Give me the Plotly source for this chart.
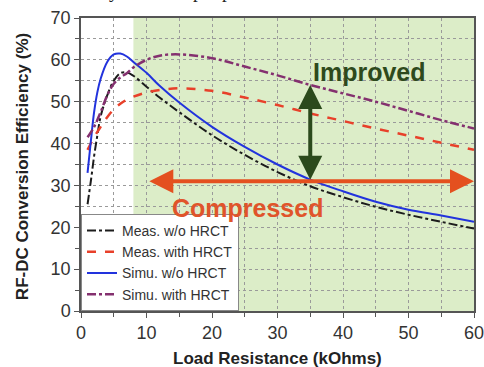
import plotly.graph_objects as go

# Load resistance (kOhms)
x_meas_wo = [1, 1.5, 2, 2.5, 3, 4, 5, 6, 7, 8, 10, 12, 15, 20, 25, 30, 35, 40, 45, 50, 55, 60]
y_meas_wo = [25.5, 31, 37, 42, 46.5, 51.5, 55, 56.8, 57, 56.2, 53.6, 51, 47.5, 42, 37.3, 33.2, 29.8, 27.2, 24.9, 23, 21.3, 19.7]

x_meas_with = [1, 2, 3, 4, 5, 6, 7, 8, 10, 12, 15, 20, 25, 30, 35, 40, 45, 50, 55, 60]
y_meas_with = [38.5, 41.5, 44, 46.3, 48.2, 49.5, 50.5, 51.2, 52.2, 52.8, 53.2, 52.6, 51, 49.2, 47.2, 45.4, 43.6, 41.9, 40.2, 38.5]

x_simu_wo = [1, 1.5, 2, 2.5, 3, 4, 5, 6, 7, 8, 10, 12, 15, 20, 25, 30, 35, 40, 45, 50, 55, 60]
y_simu_wo = [33, 40.5, 47.5, 52.3, 55.5, 59.5, 61.3, 61.5, 60.8, 59.5, 56.9, 53.8, 49.8, 44, 39.2, 35, 31.4, 28.6, 26.1, 24.2, 22.8, 21.3]

x_simu_with = [1, 2, 3, 4, 5, 6, 7, 8, 10, 12, 15, 20, 25, 30, 35, 40, 45, 50, 55, 60]
y_simu_with = [41.5, 44, 47.5, 51.5, 54.3, 55.8, 56.8, 58.2, 60, 61, 61.3, 60.4, 58.4, 56.3, 54, 52, 50, 47.8, 45.6, 43.6]

series_names = ["Meas. w/o HRCT", "Meas. with HRCT", "Simu. w/o HRCT", "Simu. with HRCT"]

x_ticks = [0, 10, 20, 30, 40, 50, 60]
y_ticks = [0, 10, 20, 30, 40, 50, 60, 70]

shade_x = [8, 60]
improved_x, improved_y = [35, 35], [31, 54]
compressed_x, compressed_y = [10.2, 60], [31, 31]

FONT = "Arial, Liberation Sans, sans-serif"

fig = go.Figure()
fig.add_trace(go.Scatter(x=x_meas_wo, y=y_meas_wo, mode="lines", name=series_names[0],
                         line=dict(color="#1c1c1c", width=2, dash="dashdot", shape="spline")))
fig.add_trace(go.Scatter(x=x_meas_with, y=y_meas_with, mode="lines", name=series_names[1],
                         line=dict(color="#e8402a", width=2.5, dash="dash", shape="spline")))
fig.add_trace(go.Scatter(x=x_simu_wo, y=y_simu_wo, mode="lines", name=series_names[2],
                         line=dict(color="#2233dd", width=2, shape="spline")))
fig.add_trace(go.Scatter(x=x_simu_with, y=y_simu_with, mode="lines", name=series_names[3],
                         line=dict(color="#84306f", width=2.5, dash="dashdot", shape="spline")))

fig.add_shape(type="rect", xref="x", yref="y", x0=shade_x[0], x1=shade_x[1], y0=0, y1=70,
              fillcolor="#dcedc8", line_width=0, layer="below")

# double arrows
fig.add_annotation(x=improved_x[0], y=improved_y[1], ax=improved_x[1], ay=improved_y[0],
                   xref="x", yref="y", axref="x", ayref="y", text="", showarrow=True,
                   arrowhead=2, arrowside="end+start", arrowsize=1.2, arrowwidth=4,
                   arrowcolor="#2b4a1c", standoff=0, startstandoff=0)
fig.add_annotation(x=compressed_x[1], y=compressed_y[0], ax=compressed_x[0], ay=compressed_y[1],
                   xref="x", yref="y", axref="x", ayref="y", text="", showarrow=True,
                   arrowhead=2, arrowside="end+start", arrowsize=1.2, arrowwidth=4,
                   arrowcolor="#e4501f", standoff=0, startstandoff=0)

fig.add_annotation(x=44.1, y=57.1, xref="x", yref="y", text="<b>Improved</b>", showarrow=False,
                   font=dict(family=FONT, size=25, color="#2e4a1c"))
fig.add_annotation(x=25.4, y=24.6, xref="x", yref="y", text="<b>Compressed</b>", showarrow=False,
                   font=dict(family=FONT, size=25, color="#e0542a"))

# axis titles
fig.add_annotation(x=0.5, y=0, xref="paper", yref="paper", yshift=-47, yanchor="middle",
                   text="<b>Load Resistance (kOhms)</b>", showarrow=False,
                   font=dict(family=FONT, size=17, color="#222"))
fig.add_annotation(x=0, y=0.491, xref="paper", yref="paper", xshift=-59, xanchor="center",
                   yanchor="middle", textangle=-90,
                   text="<b>RF-DC Conversion Efficiency (%)</b>", showarrow=False,
                   font=dict(family=FONT, size=17, color="#222"))

# clipped caption text from the page above
fig.add_annotation(x=0.5, y=1, xref="paper", yref="paper", yshift=14, yanchor="bottom",
                   text="efficiency for the input power levels at 0 and 5 dBm is shown",
                   showarrow=False, font=dict(family="Liberation Serif, serif", size=19, color="#222"))

axis_common = dict(showline=True, linecolor="#555", linewidth=1.5, mirror=True, automargin=False,
                   ticks="outside", ticklen=5, tickcolor="#555", showgrid=False, zeroline=False,
                   ticklabeloverflow="allow",
                   tickfont=dict(family=FONT, size=18, color="#333"))
fig.update_xaxes(range=[0, 60], tickvals=x_ticks,
                 minor=dict(dtick=5, tick0=0, ticks="outside", ticklen=4, tickcolor="#555",
                            showgrid=True, gridcolor="#9a9a9a", griddash="dot", gridwidth=1),
                 **axis_common)
fig.update_yaxes(range=[0, 70], tickvals=y_ticks,
                 minor=dict(dtick=5, tick0=0, ticks="outside", ticklen=4, tickcolor="#555",
                            showgrid=True, gridcolor="#9a9a9a", griddash="dot", gridwidth=1),
                 **axis_common)

fig.update_layout(width=484, height=367, margin=dict(l=81, r=10, t=18, b=56, autoexpand=False),
                  paper_bgcolor="white", plot_bgcolor="white",
                  legend=dict(x=0, y=0, xanchor="left", yanchor="bottom", bgcolor="white",
                              bordercolor="#888", borderwidth=1, tracegroupgap=0,
                              font=dict(family=FONT, size=14, color="#333")),
                  font=dict(family=FONT))

fig.write_html("out.html")
